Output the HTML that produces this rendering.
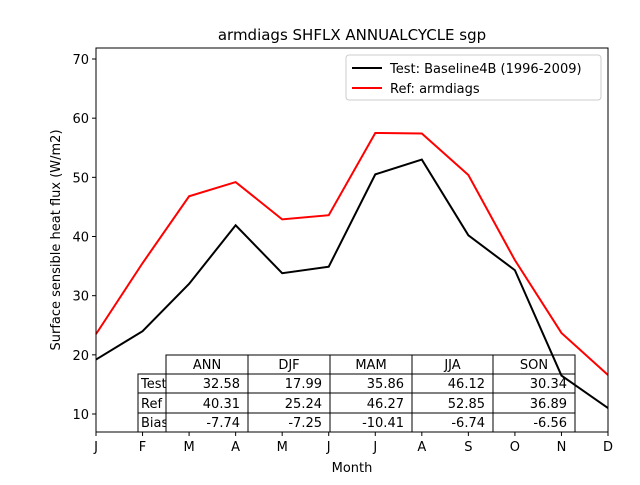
<!DOCTYPE html>
<html><head><meta charset="utf-8"><style>
body{margin:0;background:#fff;font-family:"Liberation Sans","DejaVu Sans",sans-serif}
</style></head><body>
<svg id="chart" width="640" height="480" xmlns="http://www.w3.org/2000/svg" font-family="DejaVu Sans, Liberation Sans, sans-serif">
<rect width="640" height="480" fill="#fff"/>
<text x="352" y="40" text-anchor="middle" font-size="15">armdiags SHFLX ANNUALCYCLE sgp</text>
<g id="axes"></g>
<g id="table"></g>
<g id="lines"></g>
<rect x="96" y="48" width="512" height="384" fill="none" stroke="#000" stroke-width="1"/>
<text x="352" y="472" text-anchor="middle" font-size="13">Month</text>
<text transform="translate(60,240) rotate(-90)" text-anchor="middle" font-size="13">Surface sensible heat flux (W/m2)</text>
<g>
<rect x="346" y="55" width="255" height="45" rx="3" fill="#fff" stroke="#ccc"/>
<line x1="352" y1="68" x2="382" y2="68" stroke="#000" stroke-width="2"/>
<text x="390" y="73" font-size="13">Test: Baseline4B (1996-2009)</text>
<line x1="352" y1="88" x2="382" y2="88" stroke="#f00" stroke-width="2"/>
<text x="390" y="93" font-size="13">Ref: armdiags</text>
</g>
</svg>
<script>
const months=["J","F","M","A","M","J","J","A","S","O","N","D"];
const testVals=[19.2,24.0,32.0,41.9,33.8,34.9,50.5,53.0,40.2,34.3,16.5,11.0];
const refVals=[23.5,35.5,46.8,49.2,42.9,43.6,57.5,57.4,50.4,36.0,23.7,16.6];
const yTicks=[10,20,30,40,50,60,70];
const colHeaders=["ANN","DJF","MAM","JJA","SON"];
const rowHeaders=["Test","Ref","Bias"];
const testRow=["32.58","17.99","35.86","46.12","30.34"];
const refRow=["40.31","25.24","46.27","52.85","36.89"];
const biasRow=["-7.74","-7.25","-10.41","-6.74","-6.56"];
const NS="http://www.w3.org/2000/svg";
const X=i=>96+i*512/11;
const Y=v=>432-(v-6.96)*384/(71.86-6.96);
function mk(t,a,p){const e=document.createElementNS(NS,t);for(const k in a)e.setAttribute(k,a[k]);p.appendChild(e);return e;}
const L=document.getElementById('lines');
[[testVals,"#000","test-line"],[refVals,"#f00","ref-line"]].forEach(([vals,c,n])=>{
 const p=mk('polyline',{points:vals.map((v,i)=>X(i)+','+Y(v)).join(' '),fill:'none',stroke:c,'stroke-width':2},L);
 
 
});
const A=document.getElementById('axes');
months.forEach((m,i)=>{
 mk('line',{x1:X(i),x2:X(i),y1:432,y2:436,stroke:'#000'},A);
 const t=mk('text',{x:X(i),y:451,'text-anchor':'middle','font-size':13},A);t.textContent=m;
 
 
});
yTicks.forEach(v=>{
 mk('line',{x1:92,x2:96,y1:Y(v),y2:Y(v),stroke:'#000'},A);
 const t=mk('text',{x:89,y:Y(v)+5,'text-anchor':'end','font-size':13},A);t.textContent=v;
 
 
});
const T=document.getElementById('table');
const cx=[166,248,330,412,493,575], ry=[355,374,393,413,432];
colHeaders.forEach((h,j)=>{
 mk('rect',{x:cx[j],y:ry[0],width:cx[j+1]-cx[j],height:ry[1]-ry[0],fill:'#fff',stroke:'#000'},T);
 const t=mk('text',{x:(cx[j]+cx[j+1])/2,y:ry[1]-5,'text-anchor':'middle','font-size':13},T);t.textContent=h;
 
 
});
[testRow,refRow,biasRow].forEach((row,r)=>{
 mk('rect',{x:138,y:ry[r+1],width:28,height:ry[r+2]-ry[r+1],fill:'#fff',stroke:'#000'},T);
 const th=mk('text',{x:141,y:ry[r+2]-5,'font-size':13},T);th.textContent=rowHeaders[r];
 
 
 row.forEach((v,j)=>{
  mk('rect',{x:cx[j],y:ry[r+1],width:cx[j+1]-cx[j],height:ry[r+2]-ry[r+1],fill:'#fff',stroke:'#000'},T);
  const t=mk('text',{x:cx[j+1]-8,y:ry[r+2]-5,'text-anchor':'end','font-size':13},T);t.textContent=v;
  
  
 });
});
</script>
</body></html>
